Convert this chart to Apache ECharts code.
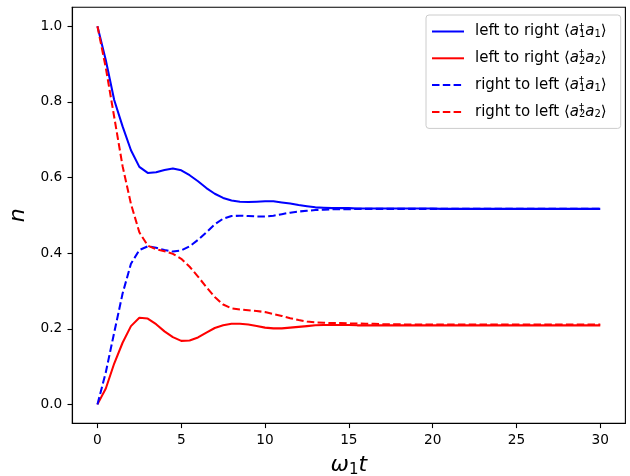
<!DOCTYPE html>
<html>
<head>
<meta charset="utf-8">
<script src="https://cdn.jsdelivr.net/npm/echarts@6/dist/echarts.min.js"></script>
<style>html,body{margin:0;padding:0;background:#fff;}#c{width:630px;height:476px;}</style>
</head>
<body>
<div id="c"></div>
<script>
var tValues = [0,0.5,1,1.5,2,2.5,3,3.5,4,4.5,5,5.5,6,6.5,7,7.5,8,8.5,9,9.5,10,10.5,11,11.5,12,12.5,13,13.5,14,14.5,15,15.5,16,16.5,17,17.5,18,18.5,19,19.5,20,20.5,21,21.5,22,22.5,23,23.5,24,24.5,25,25.5,26,26.5,27,27.5,28,28.5,29,29.5,30];

var leftToRightA1 = [1.0,0.91,0.805,0.735,0.672,0.628,0.612,0.614,0.620,0.624,0.619,0.606,0.590,0.572,0.557,0.546,0.539,0.536,0.535,0.536,0.537,0.537,0.534,0.531,0.527,0.524,0.521,0.520,0.519,0.519,0.519,0.518,0.518,0.518,0.518,0.518,0.518,0.518,0.518,0.518,0.518,0.517,0.517,0.517,0.517,0.517,0.517,0.517,0.517,0.517,0.517,0.517,0.517,0.517,0.517,0.517,0.517,0.517,0.517,0.517,0.517];

var leftToRightA2 = [0,0.042,0.108,0.163,0.207,0.229,0.227,0.212,0.193,0.178,0.168,0.169,0.177,0.190,0.202,0.209,0.213,0.213,0.211,0.207,0.203,0.201,0.201,0.203,0.205,0.207,0.209,0.210,0.210,0.210,0.210,0.209,0.209,0.209,0.209,0.209,0.209,0.209,0.209,0.209,0.209,0.209,0.209,0.209,0.209,0.209,0.209,0.209,0.209,0.209,0.209,0.209,0.209,0.209,0.209,0.209,0.209,0.209,0.209,0.209,0.209];

var rightToLeftA1 = [0,0.085,0.19,0.293,0.372,0.408,0.418,0.414,0.408,0.404,0.407,0.418,0.435,0.455,0.476,0.491,0.498,0.499,0.498,0.497,0.497,0.499,0.503,0.507,0.510,0.512,0.514,0.515,0.516,0.516,0.516,0.517,0.517,0.517,0.517,0.517,0.517,0.517,0.517,0.517,0.517,0.517,0.517,0.517,0.517,0.517,0.517,0.517,0.517,0.517,0.517,0.517,0.517,0.517,0.517,0.517,0.517,0.517,0.517,0.517,0.517];

var rightToLeftA2 = [1.0,0.89,0.76,0.63,0.53,0.455,0.42,0.41,0.405,0.398,0.385,0.364,0.338,0.31,0.284,0.264,0.254,0.251,0.249,0.247,0.244,0.239,0.234,0.228,0.223,0.219,0.217,0.216,0.215,0.215,0.214,0.214,0.213,0.213,0.212,0.212,0.212,0.211,0.211,0.211,0.211,0.211,0.211,0.211,0.211,0.211,0.211,0.211,0.211,0.211,0.211,0.211,0.211,0.211,0.211,0.211,0.211,0.211,0.211,0.211,0.211];

var xTicks = [0,5,10,15,20,25,30];
var yTicks = [0,0.2,0.4,0.6,0.8,1.0];

var seriesNames = ['left to right a1', 'left to right a2', 'right to left a1', 'right to left a2'];
var legendRich = {
  'left to right a1': '{t|left to right ⟨}{i|a}{sup|†}{sub|1}{i|a}{sub|1}{t|⟩}',
  'left to right a2': '{t|left to right ⟨}{i|a}{sup|†}{sub|2}{i|a}{sub|2}{t|⟩}',
  'right to left a1': '{t|right to left ⟨}{i|a}{sup|†}{sub|1}{i|a}{sub|1}{t|⟩}',
  'right to left a2': '{t|right to left ⟨}{i|a}{sup|†}{sub|2}{i|a}{sub|2}{t|⟩}'
};

function pairs(vals) {
  return tValues.map(function (t, i) { return [t, vals[i]]; });
}

var chart = echarts.init(document.getElementById('c'), null, {renderer: 'canvas'});
var F = 'DejaVu Sans';
var dash = [7.5, 3.3];
var LF = 15;

chart.setOption({
  animation: false,
  backgroundColor: '#fff',
  grid: {left: 72.3, right: 4.6, top: 7.3, bottom: 52.7, outerBoundsMode: 'none', containLabel: false,
    show: true, borderColor: '#000', borderWidth: 1.1, backgroundColor: 'transparent'},
  xAxis: {
    type: 'value', min: -1.5, max: 31.5,
    splitLine: {show: false},
    axisLine: {show: true, onZero: false, lineStyle: {color: '#000', width: 1.1}},
    axisTick: {show: true, length: 4.8, lineStyle: {color: '#000', width: 1.1}, customValues: xTicks},
    axisLabel: {customValues: xTicks, color: '#000', fontFamily: F, fontSize: 13.7, margin: 10},
    name: '{i|ω}{sub|1}{i|t}',
    nameLocation: 'middle', nameGap: 29,
    nameTextStyle: {
      rich: {
        i: {fontFamily: F, fontStyle: 'italic', fontSize: 22, color: '#000'},
        sub: {fontFamily: F, fontSize: 15, color: '#000', padding: [10, 0, 0, 0]}
      }
    }
  },
  yAxis: {
    type: 'value', min: -0.05, max: 1.05,
    splitLine: {show: false},
    axisLine: {show: true, onZero: false, lineStyle: {color: '#000', width: 1.1}},
    axisTick: {show: true, length: 4.8, lineStyle: {color: '#000', width: 1.1}, customValues: yTicks},
    axisLabel: {customValues: yTicks, color: '#000', fontFamily: F, fontSize: 13.7, margin: 10,
      formatter: function (v) { return v.toFixed(1); }},
    name: 'n', nameLocation: 'middle', nameGap: 42, nameRotate: 90,
    nameTextStyle: {fontFamily: F, fontStyle: 'italic', fontSize: 22, color: '#000'}
  },
  legend: {
    orient: 'vertical', left: 426, top: 15,
    data: seriesNames,
    itemWidth: 32, itemHeight: 14, itemGap: 9.8,
    padding: [8, 14, 8, 5],
    backgroundColor: 'rgba(255,255,255,0.8)',
    borderColor: '#cccccc', borderWidth: 1, borderRadius: 3,
    itemStyle: {opacity: 0},
    formatter: function (name) { return legendRich[name]; },
    textStyle: {
      color: '#000', fontFamily: F, fontSize: LF, lineHeight: 14, padding: [0, 0, 0, 6],
      rich: {
        t: {fontFamily: F, fontSize: LF, color: '#000', lineHeight: 14},
        i: {fontFamily: F, fontStyle: 'italic', fontSize: LF, color: '#000', lineHeight: 14},
        sup: {fontFamily: F, fontSize: 10, color: '#000', width: 0, lineHeight: 8, padding: [0, 0, 7, 0]},
        sub: {fontFamily: F, fontSize: 10, color: '#000', lineHeight: 8, padding: [6, 0, 0, 0]}
      }
    }
  },
  series: [
    {name: seriesNames[0], type: 'line', data: pairs(leftToRightA1), showSymbol: false, symbol: 'none',
      lineStyle: {color: '#0000ff', width: 2.05}, itemStyle: {color: '#0000ff'}},
    {name: seriesNames[1], type: 'line', data: pairs(leftToRightA2), showSymbol: false, symbol: 'none',
      lineStyle: {color: '#ff0000', width: 2.05}, itemStyle: {color: '#ff0000'}},
    {name: seriesNames[2], type: 'line', data: pairs(rightToLeftA1), showSymbol: false, symbol: 'none',
      lineStyle: {color: '#0000ff', width: 2.05, type: dash}, itemStyle: {color: '#0000ff'}},
    {name: seriesNames[3], type: 'line', data: pairs(rightToLeftA2), showSymbol: false, symbol: 'none',
      lineStyle: {color: '#ff0000', width: 2.05, type: dash}, itemStyle: {color: '#ff0000'}}
  ]
});
</script>
</body>
</html>
